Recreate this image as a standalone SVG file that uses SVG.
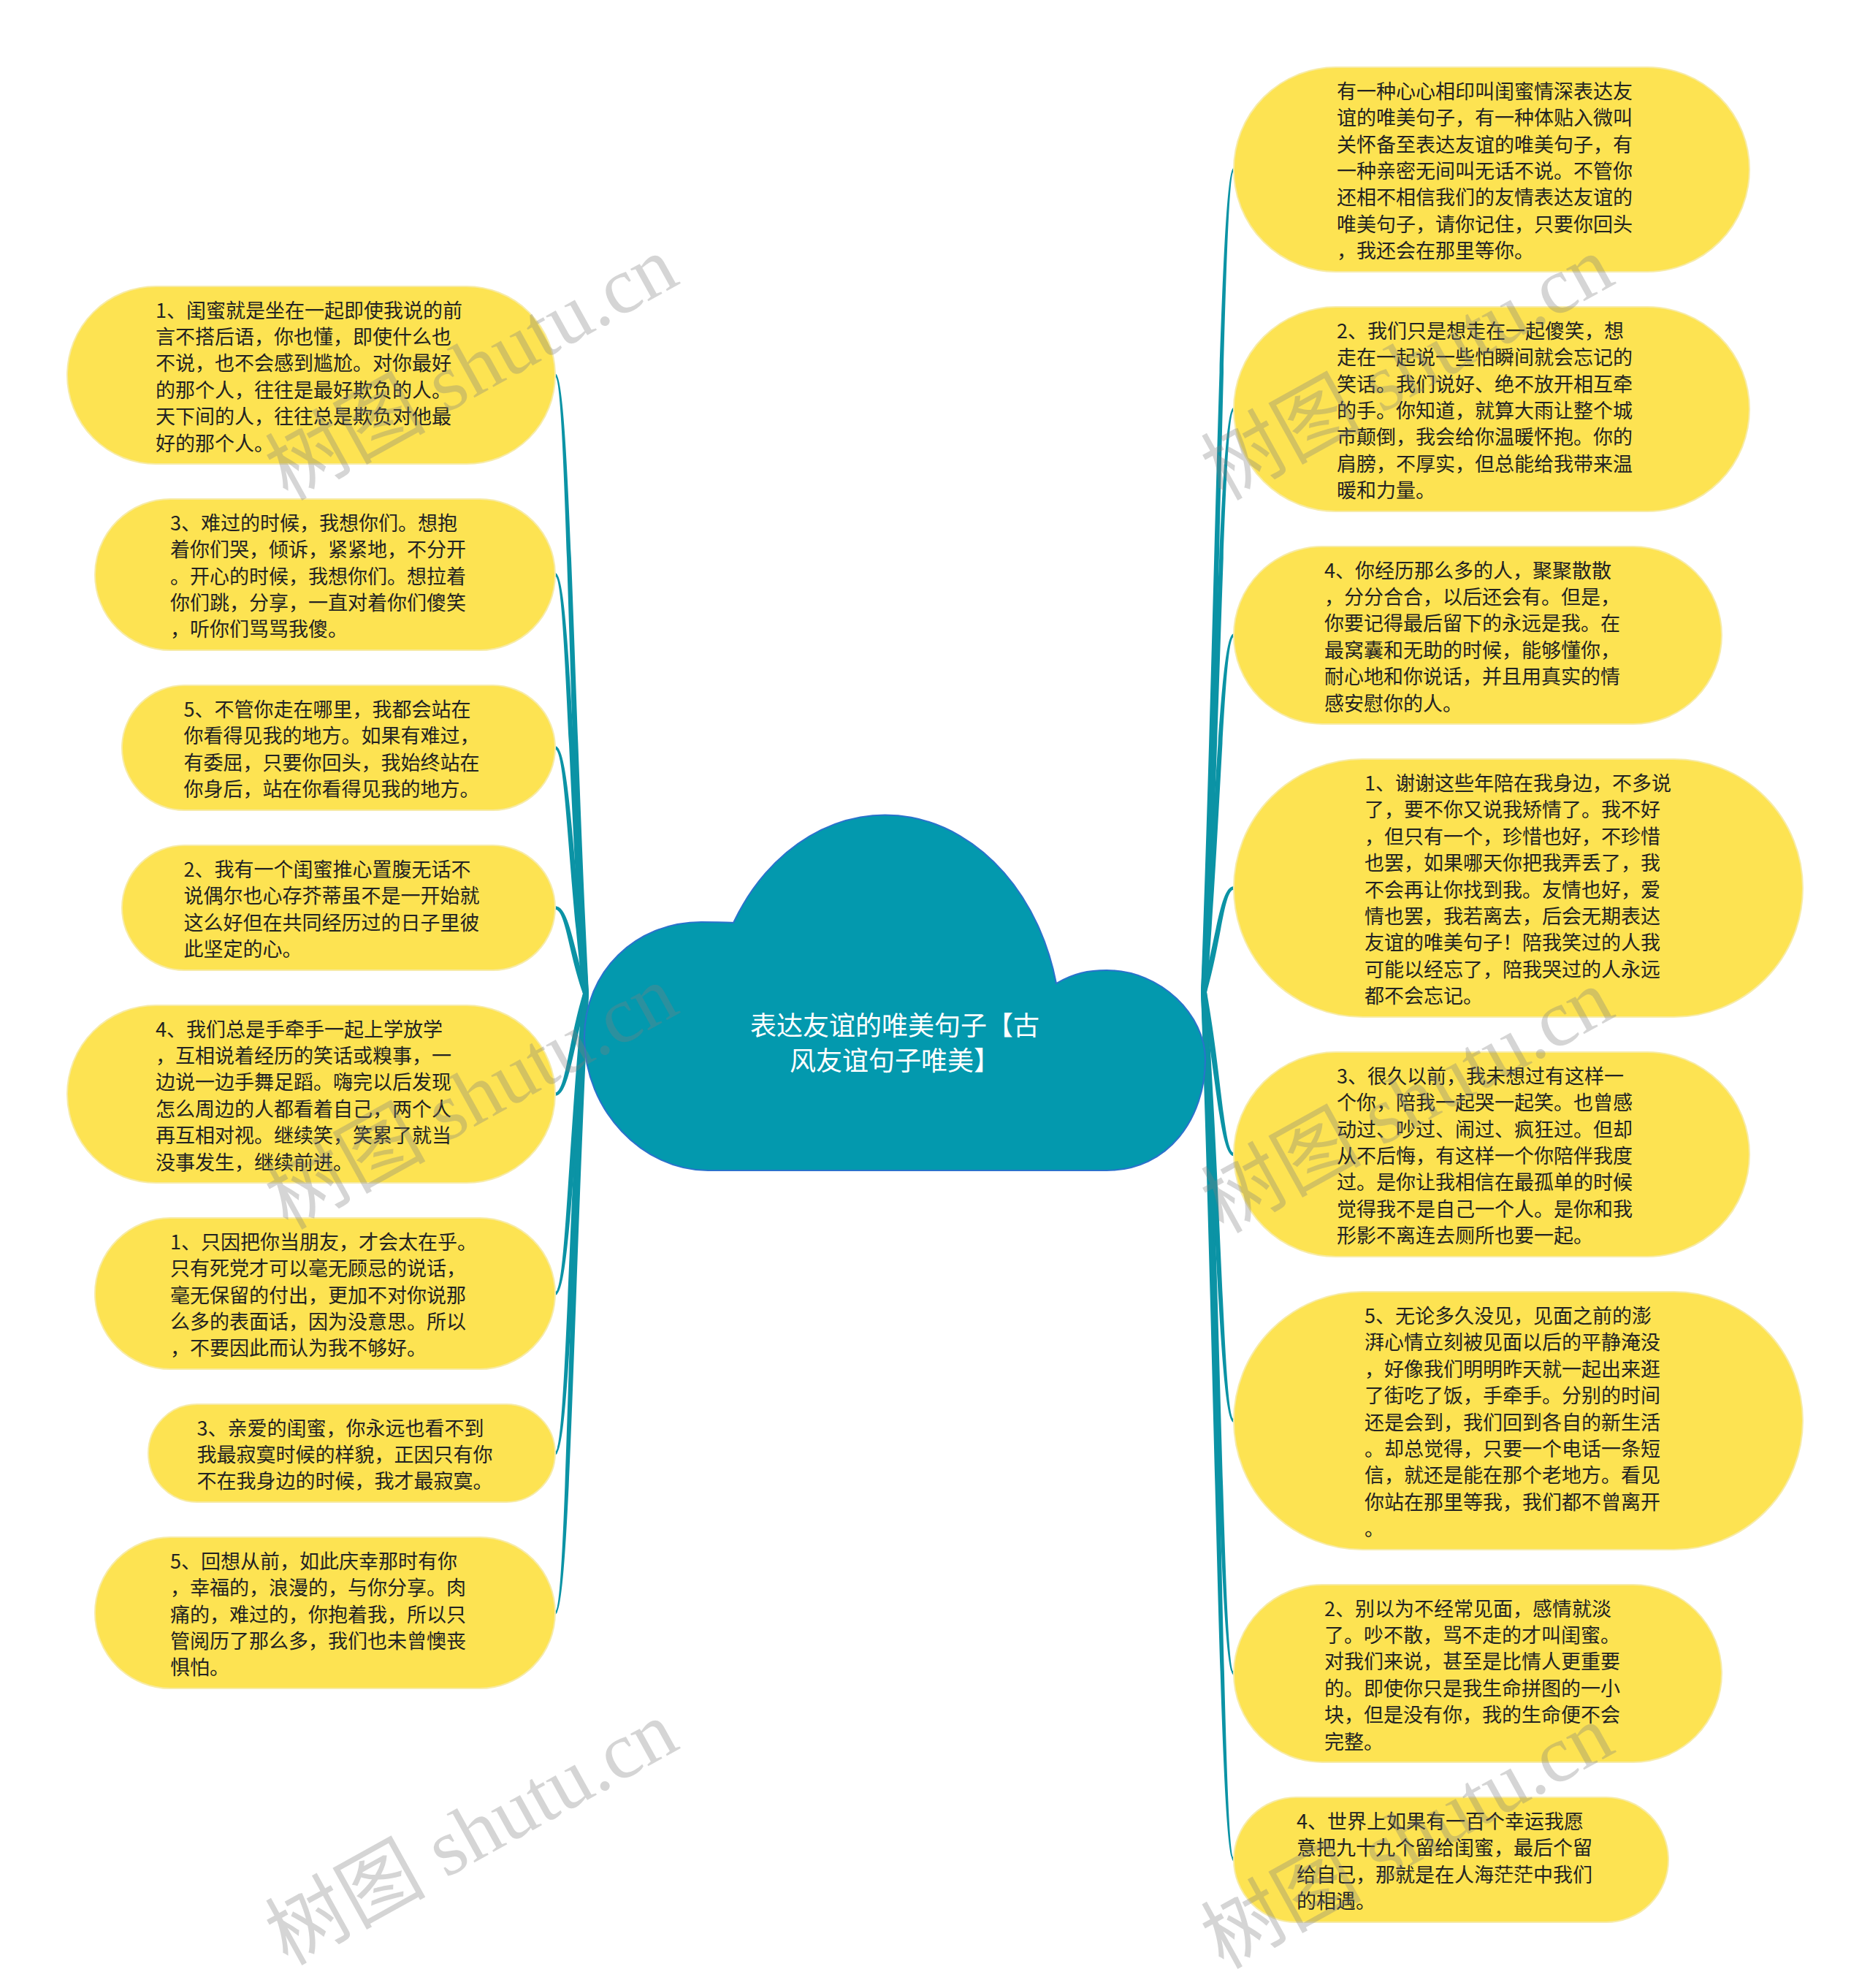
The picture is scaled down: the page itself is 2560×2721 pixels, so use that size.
<svg xmlns="http://www.w3.org/2000/svg" width="2560" height="2721" viewBox="0 0 2560 2721">
<style>
.node rect{fill:#FDE352;stroke:#F7EBA6;stroke-width:2}
.node text{font-family:"Noto Sans CJK SC","Noto Sans",sans-serif;font-size:27px;fill:#222}
.conn path{fill:#0B93A5}
.center path{fill:#0399AE;stroke:#2A72CC;stroke-width:2}
.center text{font-family:"Noto Sans CJK SC","Noto Sans",sans-serif;font-size:36px;fill:#fff;text-anchor:middle}
.wm{font-family:"Liberation Serif","Noto Sans CJK SC",serif;font-size:110px;fill:#7f7f7f;fill-opacity:0.33;text-anchor:middle}
</style>
<rect width="2560" height="2721" fill="#fff"/>
<g id="connectors" class="conn">
<path d="M798,1360 C777.5,936.8 774,516 760,515.7 L760,511.3 C780,511 784.5,936.8 806,1360Z"/>
<path d="M798,1360 C777.5,1073.3 774,789 760,788.7 L760,784.3 C780,784 784.5,1073.3 806,1360Z"/>
<path d="M798,1360 C777.5,1191.8 774,1026 760,1025.7 L760,1021.3 C780,1021 784.5,1191.8 806,1360Z"/>
<path d="M798,1360 C777.5,1301.3 774,1245 760,1244.7 L760,1240.3 C780,1240 784.5,1301.3 806,1360Z"/>
<path d="M806,1360 C784.5,1428.8 780,1500 760,1499.7 L760,1495.3 C774,1495 777.5,1428.8 798,1360Z"/>
<path d="M806,1360 C784.5,1565.3 780,1773 760,1772.7 L760,1768.3 C774,1768 777.5,1565.3 798,1360Z"/>
<path d="M806,1360 C784.5,1674.5 780,1991.5 760,1991.2 L760,1986.8 C774,1986.5 777.5,1674.5 798,1360Z"/>
<path d="M806,1360 C784.5,1783.8 780,2210 760,2209.7 L760,2205.3 C774,2205 777.5,1783.8 798,1360Z"/>
<path d="M1644,1358 C1665,795 1670,229.5 1689,229.8 L1689,234.2 C1676,234.5 1672,795 1652,1358Z"/>
<path d="M1644,1358 C1665,959 1670,557.5 1689,557.8 L1689,562.2 C1676,562.5 1672,959 1652,1358Z"/>
<path d="M1644,1358 C1665,1113.8 1670,867 1689,867.3 L1689,871.7 C1676,872 1672,1113.8 1652,1358Z"/>
<path d="M1644,1358 C1665,1286.8 1670,1213 1689,1213.3 L1689,1217.7 C1676,1218 1672,1286.8 1652,1358Z"/>
<path d="M1652,1358 C1672,1469 1676,1577.5 1689,1577.8 L1689,1582.2 C1670,1582.5 1665,1469 1644,1358Z"/>
<path d="M1652,1358 C1672,1651.3 1676,1942 1689,1942.3 L1689,1946.7 C1670,1947 1665,1651.3 1644,1358Z"/>
<path d="M1652,1358 C1672,1824.3 1676,2288 1689,2288.3 L1689,2292.7 C1670,2293 1665,1824.3 1644,1358Z"/>
<path d="M1652,1358 C1672,1951.8 1676,2543 1689,2543.3 L1689,2547.7 C1670,2548 1665,1951.8 1644,1358Z"/>
</g>
<g id="center" class="center">
<path d="M1004,1263 A241,300 0 0 1 1446,1346 C1470,1332 1490,1328 1515,1328 C1590,1328 1650,1390 1650,1450 C1650,1530 1600,1602 1515,1602 L969,1602 C880,1602 800,1520 800,1420 C800,1330 870,1262 960,1262 C980,1262 995,1262 1004,1263 Z"/>
<text x="1225" y="1416.5">表达友谊的唯美句子【古</text>
<text x="1225" y="1464.5">风友谊句子唯美】</text>
</g>
<g id="L1" class="node"><rect x="92" y="392" width="668" height="243" rx="121.5"/>
<text x="213" y="434.5"><tspan x="213">1、闺蜜就是坐在一起即使我说的前</tspan><tspan x="213" dy="36.4">言不搭后语，你也懂，即使什么也</tspan><tspan x="213" dy="36.4">不说，也不会感到尴尬。对你最好</tspan><tspan x="213" dy="36.4">的那个人，往往是最好欺负的人。</tspan><tspan x="213" dy="36.4">天下间的人，往往总是欺负对他最</tspan><tspan x="213" dy="36.4">好的那个人。</tspan></text></g>
<g id="L2" class="node"><rect x="130" y="683" width="630" height="207" rx="103.5"/>
<text x="233" y="725.7"><tspan x="233">3、难过的时候，我想你们。想抱</tspan><tspan x="233" dy="36.4">着你们哭，倾诉，紧紧地，不分开</tspan><tspan x="233" dy="36.4">。开心的时候，我想你们。想拉着</tspan><tspan x="233" dy="36.4">你们跳，分享，一直对着你们傻笑</tspan><tspan x="233" dy="36.4">，听你们骂骂我傻。</tspan></text></g>
<g id="L3" class="node"><rect x="167" y="938" width="593" height="171" rx="85.5"/>
<text x="251.5" y="980.9"><tspan x="251.5">5、不管你走在哪里，我都会站在</tspan><tspan x="251.5" dy="36.4">你看得见我的地方。如果有难过，</tspan><tspan x="251.5" dy="36.4">有委屈，只要你回头，我始终站在</tspan><tspan x="251.5" dy="36.4">你身后，站在你看得见我的地方。</tspan></text></g>
<g id="L4" class="node"><rect x="167" y="1157" width="593" height="171" rx="85.5"/>
<text x="251.5" y="1199.9"><tspan x="251.5">2、我有一个闺蜜推心置腹无话不</tspan><tspan x="251.5" dy="36.4">说偶尔也心存芥蒂虽不是一开始就</tspan><tspan x="251.5" dy="36.4">这么好但在共同经历过的日子里彼</tspan><tspan x="251.5" dy="36.4">此坚定的心。</tspan></text></g>
<g id="L5" class="node"><rect x="92" y="1376" width="668" height="243" rx="121.5"/>
<text x="213" y="1418.5"><tspan x="213">4、我们总是手牵手一起上学放学</tspan><tspan x="213" dy="36.4">，互相说着经历的笑话或糗事，一</tspan><tspan x="213" dy="36.4">边说一边手舞足蹈。嗨完以后发现</tspan><tspan x="213" dy="36.4">怎么周边的人都看着自己，两个人</tspan><tspan x="213" dy="36.4">再互相对视。继续笑，笑累了就当</tspan><tspan x="213" dy="36.4">没事发生，继续前进。</tspan></text></g>
<g id="L6" class="node"><rect x="130" y="1667" width="630" height="207" rx="103.5"/>
<text x="233" y="1709.7"><tspan x="233">1、只因把你当朋友，才会太在乎。</tspan><tspan x="233" dy="36.4">只有死党才可以毫无顾忌的说话，</tspan><tspan x="233" dy="36.4">毫无保留的付出，更加不对你说那</tspan><tspan x="233" dy="36.4">么多的表面话，因为没意思。所以</tspan><tspan x="233" dy="36.4">，不要因此而认为我不够好。</tspan></text></g>
<g id="L7" class="node"><rect x="203" y="1922" width="557" height="134" rx="67"/>
<text x="269.5" y="1964.6"><tspan x="269.5">3、亲爱的闺蜜，你永远也看不到</tspan><tspan x="269.5" dy="36.4">我最寂寞时候的样貌，正因只有你</tspan><tspan x="269.5" dy="36.4">不在我身边的时候，我才最寂寞。</tspan></text></g>
<g id="L8" class="node"><rect x="130" y="2104" width="630" height="207" rx="103.5"/>
<text x="233" y="2146.7"><tspan x="233">5、回想从前，如此庆幸那时有你</tspan><tspan x="233" dy="36.4">，幸福的，浪漫的，与你分享。肉</tspan><tspan x="233" dy="36.4">痛的，难过的，你抱着我，所以只</tspan><tspan x="233" dy="36.4">管阅历了那么多，我们也未曾懊丧</tspan><tspan x="233" dy="36.4">惧怕。</tspan></text></g>
<g id="R1" class="node"><rect x="1689" y="92" width="706" height="280" rx="140"/>
<text x="1830" y="134.8"><tspan x="1830">有一种心心相印叫闺蜜情深表达友</tspan><tspan x="1830" dy="36.4">谊的唯美句子，有一种体贴入微叫</tspan><tspan x="1830" dy="36.4">关怀备至表达友谊的唯美句子，有</tspan><tspan x="1830" dy="36.4">一种亲密无间叫无话不说。不管你</tspan><tspan x="1830" dy="36.4">还相不相信我们的友情表达友谊的</tspan><tspan x="1830" dy="36.4">唯美句子，请你记住，只要你回头</tspan><tspan x="1830" dy="36.4">，我还会在那里等你。</tspan></text></g>
<g id="R2" class="node"><rect x="1689" y="420" width="706" height="280" rx="140"/>
<text x="1830" y="462.8"><tspan x="1830">2、我们只是想走在一起傻笑，想</tspan><tspan x="1830" dy="36.4">走在一起说一些怕瞬间就会忘记的</tspan><tspan x="1830" dy="36.4">笑话。我们说好、绝不放开相互牵</tspan><tspan x="1830" dy="36.4">的手。你知道，就算大雨让整个城</tspan><tspan x="1830" dy="36.4">市颠倒，我会给你温暖怀抱。你的</tspan><tspan x="1830" dy="36.4">肩膀，不厚实，但总能给我带来温</tspan><tspan x="1830" dy="36.4">暖和力量。</tspan></text></g>
<g id="R3" class="node"><rect x="1689" y="748" width="668" height="243" rx="121.5"/>
<text x="1813" y="790.5"><tspan x="1813">4、你经历那么多的人，聚聚散散</tspan><tspan x="1813" dy="36.4">，分分合合，以后还会有。但是，</tspan><tspan x="1813" dy="36.4">你要记得最后留下的永远是我。在</tspan><tspan x="1813" dy="36.4">最窝囊和无助的时候，能够懂你，</tspan><tspan x="1813" dy="36.4">耐心地和你说话，并且用真实的情</tspan><tspan x="1813" dy="36.4">感安慰你的人。</tspan></text></g>
<g id="R4" class="node"><rect x="1689" y="1039" width="779" height="353" rx="176.5"/>
<text x="1868" y="1081.9"><tspan x="1868">1、谢谢这些年陪在我身边，不多说</tspan><tspan x="1868" dy="36.4">了，要不你又说我矫情了。我不好</tspan><tspan x="1868" dy="36.4">，但只有一个，珍惜也好，不珍惜</tspan><tspan x="1868" dy="36.4">也罢，如果哪天你把我弄丢了，我</tspan><tspan x="1868" dy="36.4">不会再让你找到我。友情也好，爱</tspan><tspan x="1868" dy="36.4">情也罢，我若离去，后会无期表达</tspan><tspan x="1868" dy="36.4">友谊的唯美句子！陪我笑过的人我</tspan><tspan x="1868" dy="36.4">可能以经忘了，陪我哭过的人永远</tspan><tspan x="1868" dy="36.4">都不会忘记。</tspan></text></g>
<g id="R5" class="node"><rect x="1689" y="1440" width="706" height="280" rx="140"/>
<text x="1830" y="1482.8"><tspan x="1830">3、很久以前，我未想过有这样一</tspan><tspan x="1830" dy="36.4">个你，陪我一起哭一起笑。也曾感</tspan><tspan x="1830" dy="36.4">动过、吵过、闹过、疯狂过。但却</tspan><tspan x="1830" dy="36.4">从不后悔，有这样一个你陪伴我度</tspan><tspan x="1830" dy="36.4">过。是你让我相信在最孤单的时候</tspan><tspan x="1830" dy="36.4">觉得我不是自己一个人。是你和我</tspan><tspan x="1830" dy="36.4">形影不离连去厕所也要一起。</tspan></text></g>
<g id="R6" class="node"><rect x="1689" y="1768" width="779" height="353" rx="176.5"/>
<text x="1868" y="1810.9"><tspan x="1868">5、无论多久没见，见面之前的澎</tspan><tspan x="1868" dy="36.4">湃心情立刻被见面以后的平静淹没</tspan><tspan x="1868" dy="36.4">，好像我们明明昨天就一起出来逛</tspan><tspan x="1868" dy="36.4">了街吃了饭，手牵手。分别的时间</tspan><tspan x="1868" dy="36.4">还是会到，我们回到各自的新生活</tspan><tspan x="1868" dy="36.4">。却总觉得，只要一个电话一条短</tspan><tspan x="1868" dy="36.4">信，就还是能在那个老地方。看见</tspan><tspan x="1868" dy="36.4">你站在那里等我，我们都不曾离开</tspan><tspan x="1868" dy="36.4">。</tspan></text></g>
<g id="R7" class="node"><rect x="1689" y="2169" width="668" height="243" rx="121.5"/>
<text x="1813" y="2211.5"><tspan x="1813">2、别以为不经常见面，感情就淡</tspan><tspan x="1813" dy="36.4">了。吵不散，骂不走的才叫闺蜜。</tspan><tspan x="1813" dy="36.4">对我们来说，甚至是比情人更重要</tspan><tspan x="1813" dy="36.4">的。即使你只是我生命拼图的一小</tspan><tspan x="1813" dy="36.4">块，但是没有你，我的生命便不会</tspan><tspan x="1813" dy="36.4">完整。</tspan></text></g>
<g id="R8" class="node"><rect x="1689" y="2460" width="595" height="171" rx="85.5"/>
<text x="1775" y="2502.9"><tspan x="1775">4、世界上如果有一百个幸运我愿</tspan><tspan x="1775" dy="36.4">意把九十九个留给闺蜜，最后个留</tspan><tspan x="1775" dy="36.4">给自己，那就是在人海茫茫中我们</tspan><tspan x="1775" dy="36.4">的相遇。</tspan></text></g>
<g id="watermarks">
<text class="wm" transform="translate(646,505) rotate(-29)" y="36">树图 shutu.cn</text>
<text class="wm" transform="translate(646,1503) rotate(-29)" y="36">树图 shutu.cn</text>
<text class="wm" transform="translate(646,2510) rotate(-29)" y="36">树图 shutu.cn</text>
<text class="wm" transform="translate(1927,505) rotate(-29)" y="36">树图 shutu.cn</text>
<text class="wm" transform="translate(1927,1508) rotate(-29)" y="36">树图 shutu.cn</text>
<text class="wm" transform="translate(1927,2515) rotate(-29)" y="36">树图 shutu.cn</text>
</g>
</svg>
